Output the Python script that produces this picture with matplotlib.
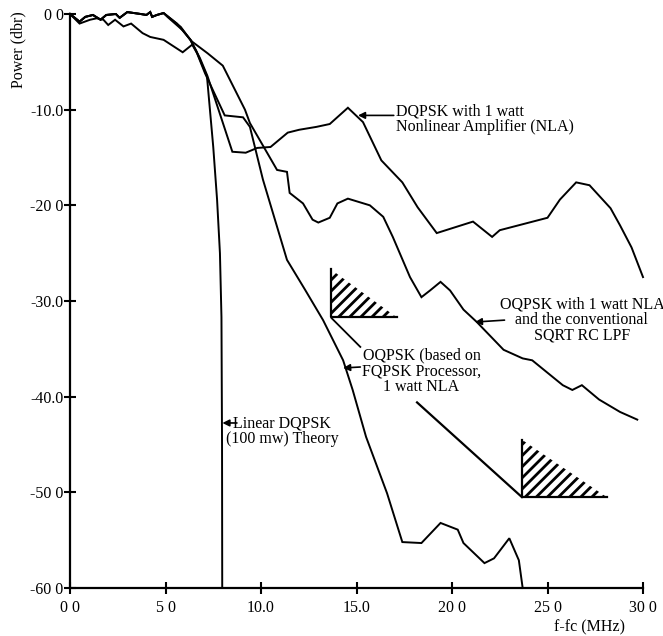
import matplotlib

matplotlib.use("Agg")
import matplotlib.pyplot as plt
from matplotlib.patches import Polygon

plt.rcParams["font.family"] = ["Liberation Serif", "DejaVu Serif"]
plt.rcParams["hatch.linewidth"] = 2.0

# --- data (f - fc in MHz, power in dBr) ---
top_x = [0, 0.5, 0.8, 1.2, 1.6, 1.9, 2.4, 2.6, 3.0, 3.7, 4.0, 4.2, 4.3, 4.55, 4.9]
top_y = [0, -0.8, -0.3, -0.1, -0.6, -0.1, 0.0, -0.4, 0.2, 0.0, -0.1, 0.2, -0.3, -0.1, 0.1]

nla_x = top_x + [5.8, 6.3, 6.8, 7.2, 8.5, 9.2, 9.8, 10.5, 11.4, 12.0, 12.9, 13.6,
                 14.55, 15.34, 16.3, 17.4, 18.2, 19.2, 21.1, 22.1, 22.5, 25.0,
                 25.65, 26.5, 27.2, 28.3, 28.8, 29.4, 30.0]
nla_y = top_y + [-1.35, -2.7, -4.6, -6.5, -14.4, -14.5, -14.0, -13.9, -12.4, -12.1,
                 -11.8, -11.5, -9.8, -11.3, -15.3, -17.6, -20.2, -22.9, -21.7, -23.3,
                 -22.6, -21.3, -19.4, -17.6, -17.9, -20.3, -22.1, -24.4, -27.5]

sqrt_x = top_x + [5.1, 5.9, 6.4, 7.2, 8.0, 9.16, 9.42, 10.84, 11.36, 11.5, 12.2,
                  12.7, 13.0, 13.6, 14.0, 14.55, 15.7, 16.4, 16.9, 17.8, 18.4,
                  18.85, 19.4, 19.9, 20.6, 21.3, 22.7, 23.7, 24.2, 25.0, 25.8,
                  26.3, 26.8, 27.7, 28.8, 29.7]
sqrt_y = top_y + [-0.3, -1.7, -2.9, -4.1, -5.4, -10.0, -11.4, -16.3, -16.5, -18.7,
                  -19.8, -21.5, -21.8, -21.3, -19.8, -19.3, -20.0, -21.2, -23.3,
                  -27.5, -29.6, -28.9, -28.0, -28.9, -30.9, -32.2, -35.1, -36.0,
                  -36.2, -37.5, -38.8, -39.3, -38.8, -40.3, -41.6, -42.4]

fqpsk_x = [0, 0.5, 1.05, 1.4, 1.75, 2.0, 2.36, 2.8, 3.2, 3.8, 4.2, 4.9, 5.9, 6.4,
           6.65, 7.07, 8.1, 9.06, 9.42, 10.1, 11.36, 12.3, 13.25, 14.3, 14.8, 15.5,
           16.6, 17.4, 18.4, 19.4, 20.3, 20.6, 21.7, 22.2, 23.0, 23.5, 23.7]
fqpsk_y = [0, -1.0, -0.6, -0.45, -0.6, -1.15, -0.6, -1.3, -1.0, -2.0, -2.4, -2.7,
           -4.0, -3.2, -4.1, -6.2, -10.6, -10.8, -11.8, -17.3, -25.7, -28.8, -32.0,
           -36.2, -39.3, -44.2, -50.1, -55.2, -55.3, -53.2, -53.9, -55.3, -57.4,
           -56.9, -54.8, -57.1, -60.0]

lin_x = top_x + [5.6, 6.3, 6.6, 7.17, 7.5, 7.7, 7.85, 7.93, 7.96, 7.97]
lin_y = top_y + [-1.0, -2.7, -3.8, -6.5, -13.9, -19.4, -25.0, -31.7, -45.0, -60.0]

# hatched limit masks: (corner x, corner y, top y, right x)
masks = [(13.66, -31.7, -26.7, 17.1), (23.66, -50.5, -44.5, 28.1)]

x_ticks = [0, 5, 10, 15, 20, 25, 30]
x_labels = ["0 0", "5 0", "10.0", "15.0", "20 0", "25 0", "30 0"]
y_ticks = [0, -10, -20, -30, -40, -50, -60]
y_labels = ["0 0", "-10.0", "-20 0", "-30.0", "-40.0", "-50 0", "-60 0"]

W, H = 663, 636
fig = plt.figure(figsize=(W / 100, H / 100), dpi=100)
ax = fig.add_axes([70 / W, 1 - 588 / H, 573 / W, 574 / H])

for xs, ys in [(lin_x, lin_y), (nla_x, nla_y), (sqrt_x, sqrt_y), (fqpsk_x, fqpsk_y)]:
    ax.plot(xs, ys, color="black", lw=1.4, clip_on=False, solid_joinstyle="miter")

for cx, cy, ty, rx in masks:
    ax.add_patch(Polygon([(cx, cy), (cx, ty), (rx, cy)], closed=True,
                         facecolor="none", edgecolor="black", lw=0, hatch="///"))
    ax.plot([cx, cx, rx], [ty, cy, cy], color="black", lw=1.6)

# leader line from FQPSK label to the lower mask, and to the upper mask
ax.plot([18.17, 23.66], [-40.6, -50.5], color="black", lw=1.6)
ax.plot([13.7, 15.2], [-31.8, -34.8], color="black", lw=1.3)

arrow = dict(arrowstyle="-|>", color="black", lw=1.2, mutation_scale=10,
             shrinkA=0, shrinkB=0)
fs = 11.5
ax.annotate("", xy=(15.08, -10.6), xytext=(16.95, -10.6), arrowprops=arrow)
ax.text(17.05, -9.4, "DQPSK with 1 watt\nNonlinear Amplifier (NLA)", fontsize=fs,
        ha="left", va="top", linespacing=0.95)

ax.annotate("", xy=(21.2, -32.2), xytext=(22.75, -32.0), arrowprops=arrow)
ax.text(26.8, -29.5, "OQPSK with 1 watt NLA\nand the conventional\nSQRT RC LPF",
        fontsize=fs, ha="center", va="top", linespacing=0.95)

ax.annotate("", xy=(14.3, -37.0), xytext=(15.2, -36.9), arrowprops=arrow)
ax.text(18.4, -34.9, "OQPSK (based on\nFQPSK Processor,\n1 watt NLA",
        fontsize=fs, ha="center", va="top", linespacing=0.95)

ax.annotate("", xy=(7.98, -42.75), xytext=(8.74, -42.75), arrowprops=arrow)
ax.text(11.1, -42.0, "Linear DQPSK\n(100 mw) Theory", fontsize=fs,
        ha="center", va="top", linespacing=0.95)

ax.set_xlim(0, 30)
ax.set_ylim(-60, 0)
ax.set_xticks(x_ticks)
ax.set_xticklabels(x_labels)
ax.set_yticks(y_ticks)
ax.set_yticklabels(y_labels)
ax.tick_params(axis="both", direction="inout", length=9, width=1.5,
               labelsize=fs, color="black")
ax.tick_params(axis="y", pad=0)
ax.tick_params(axis="x", pad=4)
for side in ["top", "right"]:
    ax.spines[side].set_visible(False)
for side in ["left", "bottom"]:
    ax.spines[side].set_linewidth(1.6)

fig.text(18 / W, 1 - 50 / H, "Power (dbr)", rotation=90, fontsize=fs,
         ha="center", va="center")
fig.text(590 / W, 1 - 627 / H, "f-fc (MHz)", fontsize=fs, ha="center", va="center")

fig.savefig("out.png", dpi=100)
